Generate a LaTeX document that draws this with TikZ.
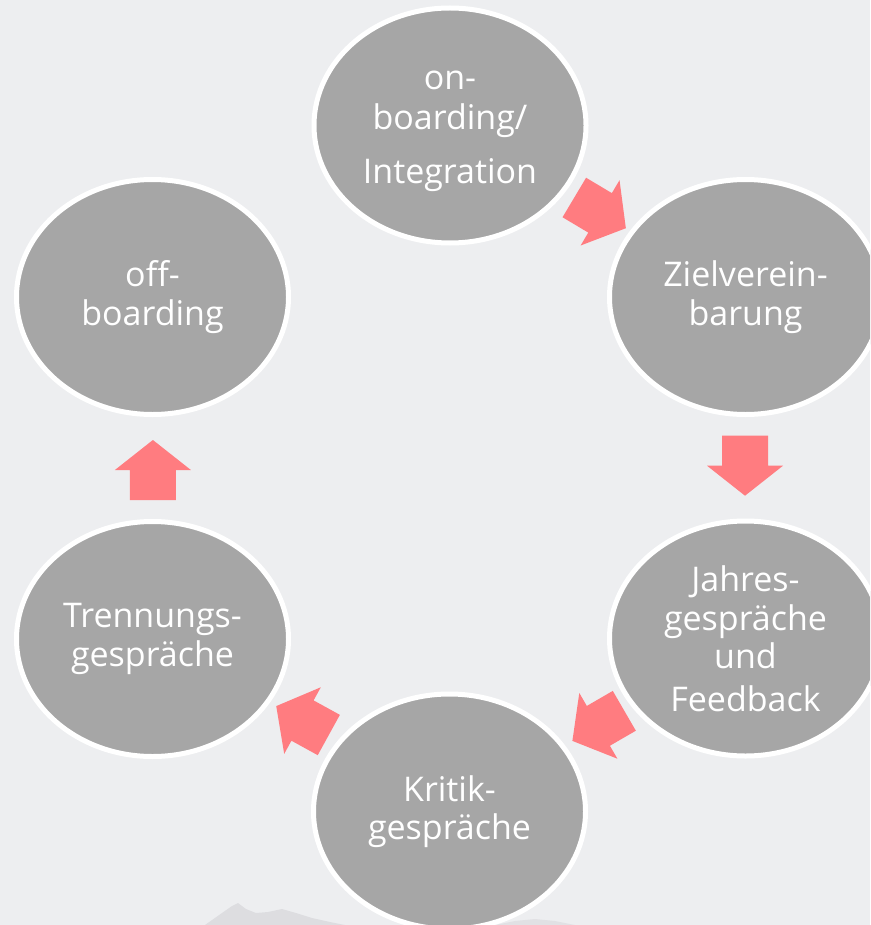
\documentclass[tikz,border=0pt]{standalone}
\usepackage{fontspec}
\setmainfont{Open Sans}
\usetikzlibrary{shapes.geometric}
\definecolor{bg}{HTML}{EDEEF0}
\definecolor{cyclegray}{HTML}{A6A6A6}
\definecolor{arrowred}{HTML}{FF7C80}
\definecolor{mountain}{HTML}{D9D9DD}
\begin{document}
\begin{tikzpicture}[x=1pt,y=-1pt,
  stage/.style={ellipse, draw=white, line width=5pt, fill=cyclegray,
    minimum width=272pt, minimum height=235pt, inner sep=0pt,
    align=center, text=white, font=\fontsize{34}{38.5}\selectfont},
  blockarrow/.pic={\fill[arrowred] (0,-23) -- (30,-23) -- (30,-38) -- (60,0)
    -- (30,38) -- (30,23) -- (0,23) -- cycle;}
]
\useasboundingbox (0,0) rectangle (870,925);
\clip (0,0) rectangle (870,925);
\fill[bg] (0,0) rectangle (870,925);
% faint mountain watermark
\fill[mountain, opacity=0.8] (205,925) -- (222,913) -- (232,906) -- (238,903) -- (246,909)
  -- (256,913) -- (268,912) -- (282,909) -- (296,913) -- (312,918) -- (330,922) -- (345,925) -- cycle;
\fill[mountain, opacity=0.6] (495,925) -- (515,921) -- (535,919) -- (555,921) -- (575,925) -- cycle;

\node[stage] (on)    at (450,125.5) {\rule{0pt}{30pt}on-\\[1.5pt]boarding/\\[16pt]Integration};
\node[stage] (ziel)  at (745.5,297) {Zielverein-\\barung};
\node[stage] (jahr)  at (745.5,638.5) {Jahres-\\gespräche\\und\\[4pt]Feedback};
\node[stage] (krit)  at (449.5,811.5) {Kritik-\\gespräche};
\node[stage] (trenn) at (152.5,639) {Trennungs-\\gespräche};
\node[stage] (off)   at (152.5,297) {off-\\boarding};

\pic[rotate=-30.8] (a1) at (574.3,197.5) {blockarrow};
\pic[rotate=-90]   (a2) at (745,435.7) {blockarrow};
\pic[rotate=210.1] (a3) at (624.3,710.8) {blockarrow};
\pic[rotate=151.2] (a4) at (328.8,735) {blockarrow};
\pic[rotate=90]    (a5) at (152.9,500) {blockarrow};
\end{tikzpicture}
\end{document}
